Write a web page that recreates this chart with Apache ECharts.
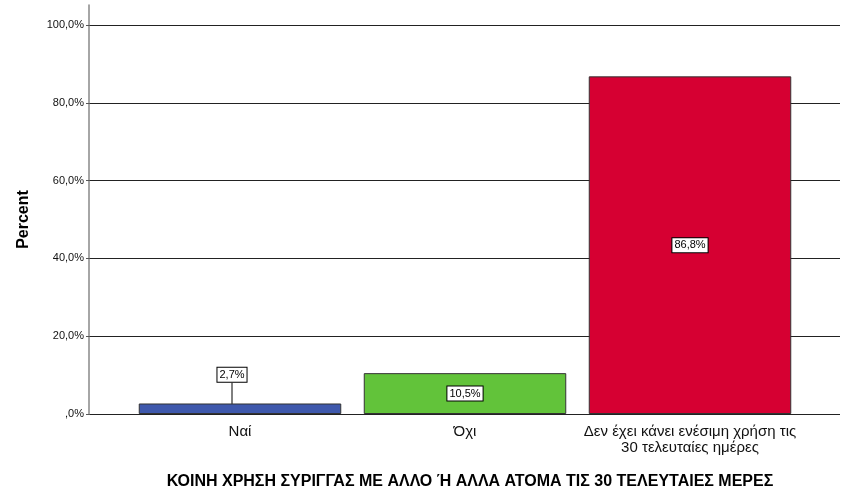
<!DOCTYPE html>
<html>
<head>
<meta charset="utf-8">
<script src="https://cdn.jsdelivr.net/npm/echarts@6/dist/echarts.min.js"></script>
<style>
html,body{margin:0;padding:0;background:#fff;}
#chart{width:851px;height:501px;}
</style>
</head>
<body>
<div id="chart"></div>
<script>
const categories = ['Ναί', 'Όχι', 'Δεν έχει κάνει ενέσιμη χρήση τις\n30 τελευταίες ημέρες'];
const percents = [2.7, 10.5, 86.8];
const barColors = ['#3E58AC', '#62C33A', '#D60032'];
const yTicks = [0, 20, 40, 60, 80, 100];
const xTitle = 'ΚΟΙΝΗ ΧΡΗΣΗ ΣΥΡΙΓΓΑΣ ΜΕ ΑΛΛΟ Ή ΑΛΛΑ ΑΤΟΜΑ ΤΙΣ 30 ΤΕΛΕΥΤΑΙΕΣ ΜΕΡΕΣ';
const yTitle = 'Percent';

function fmtPct(v) {
  let s = v.toFixed(1).replace('.', ',');
  if (s.startsWith('0,')) s = s.substring(1);
  return s + '%';
}

const font = 'Arial, "Liberation Sans", sans-serif';
const chart = echarts.init(document.getElementById('chart'));
chart.setOption({
  animation: false,
  backgroundColor: '#fff',
  grid: [
    {left: 90, right: 11, top: 25, bottom: 87},
    {left: 127.5, right: 48.5, top: 25, bottom: 87},
    {left: 89, right: 11, top: 5, bottom: 87}
  ],
  xAxis: [
    {gridIndex: 0, type: 'value', min: 0, max: 1, show: false},
    {gridIndex: 1, type: 'category', data: categories,
      axisLine: {show: false}, axisTick: {show: false},
      axisLabel: {interval: 0, color: '#111', fontSize: 15, fontFamily: font, margin: 10, lineHeight: 16}},
    {gridIndex: 2, type: 'value', min: 0, max: 1, show: false}
  ],
  yAxis: [
    {gridIndex: 0, type: 'value', min: yTicks[0], max: yTicks[yTicks.length - 1], interval: 20,
      axisLine: {show: false},
      axisTick: {show: true, length: 4, lineStyle: {color: '#555'}},
      axisLabel: {formatter: v => fmtPct(v), color: '#111', fontSize: 11, fontFamily: font, margin: 6},
      splitLine: {show: true, lineStyle: {color: '#222', width: 1}},
      name: yTitle, nameLocation: 'middle', nameGap: 58, nameRotate: 90,
      nameTextStyle: {fontWeight: 'bold', fontSize: 16, fontFamily: font, color: '#000'}
    },
    {gridIndex: 1, type: 'value', min: 0, max: 100, show: false},
    {gridIndex: 2, type: 'value', min: 0, max: 1, axisLabel: {show: false}, axisTick: {show: false},
      splitLine: {show: false}, axisLine: {show: true, lineStyle: {color: '#888', width: 1.5}}}
  ],
  title: {
    text: xTitle, left: 465, top: 469, textAlign: 'center',
    textStyle: {fontWeight: 'bold', fontSize: 16, fontFamily: font, color: '#000'}
  },
  series: [{
    type: 'bar',
    xAxisIndex: 1, yAxisIndex: 1,
    barWidth: '90%',
    data: percents.map((v, i) => ({
      value: v,
      itemStyle: {color: barColors[i], borderColor: '#333', borderWidth: 1}
    })),
    label: {
      show: true, position: 'inside',
      formatter: p => fmtPct(p.value),
      backgroundColor: '#fff', borderColor: '#000', borderWidth: 1,
      padding: [2, 2, 1, 2], color: '#000', fontSize: 11, fontFamily: font
    },
    labelLayout: function (params) {
      if (params.dataIndex === 0) {
        return {dx: -8, dy: -34};
      }
      return {};
    },
    labelLine: {show: true, lineStyle: {color: '#000', width: 1}}
  }]
});
</script>
</body>
</html>
